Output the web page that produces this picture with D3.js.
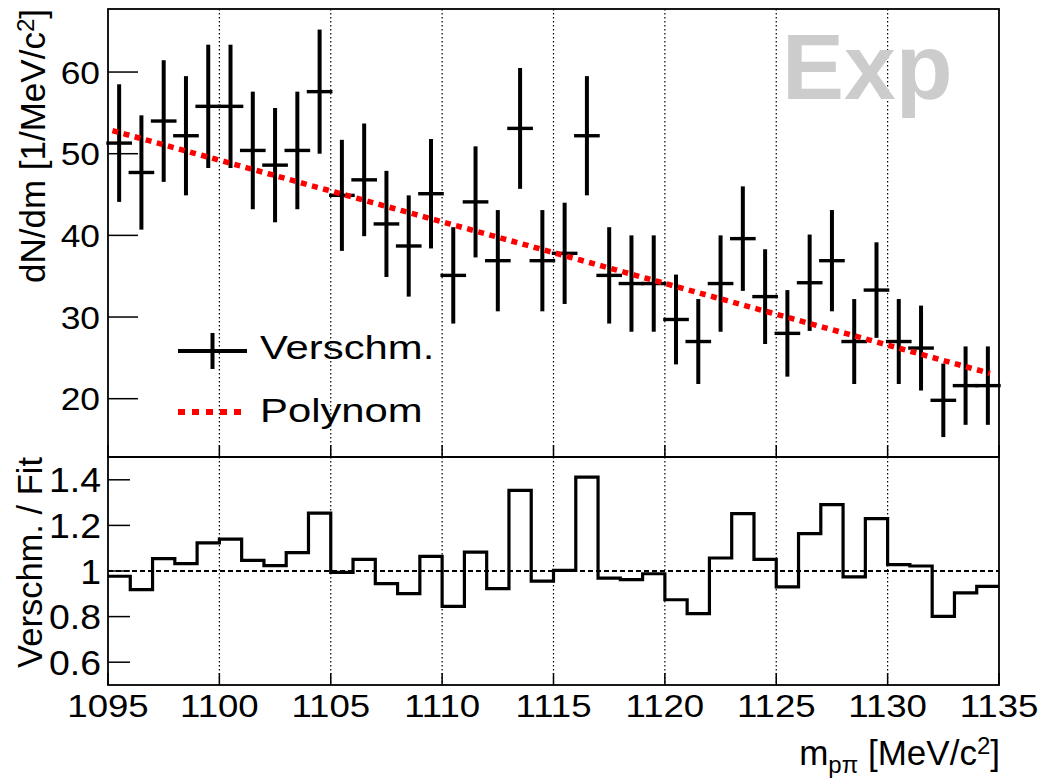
<!DOCTYPE html>
<html><head><meta charset="utf-8">
<script src="https://cdn.jsdelivr.net/npm/d3@7"></script>
<style>
html,body{margin:0;padding:0;background:#fff;}
svg{display:block;font-family:"Liberation Sans",Arial,Helvetica,sans-serif;}
</style></head>
<body>
<svg id="c" width="1045" height="783"></svg>
<script>
// ---- data ----
const binEdges = d3.range(1095, 1136, 1);           // 40 bins, 1 MeV wide
const counts = [51.3, 47.7, 54.0, 52.2, 55.8, 55.8, 50.4, 48.6, 50.4, 57.6,
                44.9, 46.8, 41.4, 38.7, 45.1, 35.1, 44.1, 36.9, 53.1, 36.9,
                37.8, 52.2, 35.1, 34.1, 34.1, 29.7, 27.0, 34.1, 39.6, 32.5,
                28.0, 34.2, 36.9, 27.0, 33.3, 27.0, 26.2, 19.8, 21.6, 21.6];
const errors = [7.2, 7.0, 7.45, 7.3, 7.55, 7.55, 7.2, 7.0, 7.2, 7.6,
                6.8, 6.9, 6.5, 6.2, 6.7, 5.9, 6.8, 6.2, 7.4, 6.2,
                6.2, 7.3, 5.9, 5.9, 5.9, 5.5, 5.2, 5.9, 6.4, 5.8,
                5.3, 5.9, 6.2, 5.2, 5.85, 5.2, 5.2, 4.5, 4.8, 4.8];
const ratio = [0.977, 0.918, 1.054, 1.032, 1.123, 1.140, 1.047, 1.024, 1.081, 1.254,
               0.994, 1.051, 0.945, 0.901, 1.064, 0.845, 1.083, 0.923, 1.354, 0.956,
               1.003, 1.412, 0.969, 0.962, 0.988, 0.874, 0.813, 1.057, 1.252, 1.051,
               0.930, 1.164, 1.291, 0.974, 1.230, 1.028, 1.022, 0.801, 0.904, 0.933];
const polyCoef = [52.98, -0.7546];   // p0 + p1*(m-1095)
const fitRange = [1095.2, 1134.6];
const xTicks = [1095, 1100, 1105, 1110, 1115, 1120, 1125, 1130, 1135];
const yTicksTop = [20, 30, 40, 50, 60];
const yTicksLow = [0.6, 0.8, 1, 1.2, 1.4];
const yTickLabelsLow = ["0.6", "0.8", "1", "1.2", "1.4"];
const legendLabels = ["Verschm.", "Polynom"];

// ---- layout ----
const L = 108, R = 999, T1 = 9, B1 = 457, T2 = 457, B2 = 685;
const svg = d3.select("#c");
const x = d3.scaleLinear().domain([1095, 1135]).range([L, R]);
const yTop = d3.scaleLinear().domain([12.86, 67.72]).range([B1, T1]);
const yLow = d3.scaleLinear().domain([0.5, 1.5]).range([B2, T2]);

function txt(g, px, py, s, size, sx, anchor, weight, fill) {
  return g.append("text")
    .attr("transform", `translate(${px},${py}) scale(${sx},1)`)
    .attr("font-size", size).attr("text-anchor", anchor || "start")
    .attr("font-weight", weight || "normal").attr("fill", fill || "#000")
    .text(s);
}

// grid (vertical dotted)
const gridX = xTicks.slice(1, -1);
[[T1, B1], [T2, B2]].forEach(([t, b]) => {
  svg.append("g").selectAll("line").data(gridX).join("line")
    .attr("x1", d => x(d)).attr("x2", d => x(d)).attr("y1", t).attr("y2", b)
    .attr("stroke", "#000").attr("stroke-width", 1.2).attr("stroke-dasharray", "1.5,2.5");
});

// Exp watermark
txt(svg, 782, 99, "Exp", 93, 1, "start", "bold", "#cccccc");

// ---- top panel: error bars ----
const bw = x(1096) - x(1095);
const gp = svg.append("g");
gp.selectAll("line.v").data(counts).join("line").attr("class", "v")
  .attr("x1", (d, i) => x(binEdges[i] + 0.5)).attr("x2", (d, i) => x(binEdges[i] + 0.5))
  .attr("y1", (d, i) => yTop(d + errors[i])).attr("y2", (d, i) => yTop(d - errors[i]))
  .attr("stroke", "#000").attr("stroke-width", 4);
gp.selectAll("line.h").data(counts).join("line").attr("class", "h")
  .attr("x1", (d, i) => x(binEdges[i])).attr("x2", (d, i) => x(binEdges[i + 1]))
  .attr("y1", d => yTop(d)).attr("y2", d => yTop(d))
  .attr("stroke", "#000").attr("stroke-width", 3.4).attr("stroke-linecap", "square");

// fit line
const fitPts = d3.range(fitRange[0], fitRange[1] + 0.001, 0.2).map(m => [m, polyCoef[0] + polyCoef[1] * (m - 1095)]);
svg.append("path").datum(fitPts)
  .attr("d", d3.line().x(d => x(d[0])).y(d => yTop(d[1])))
  .attr("fill", "none").attr("stroke", "#ff0000").attr("stroke-width", 5.5)
  .attr("stroke-dasharray", "6,5.5");

// ---- lower panel ----
svg.append("line").attr("x1", L).attr("x2", R).attr("y1", yLow(1)).attr("y2", yLow(1))
  .attr("stroke", "#000").attr("stroke-width", 2.2).attr("stroke-dasharray", "5,3");
const stepPts = [];
ratio.forEach((r, i) => { stepPts.push([binEdges[i], r]); stepPts.push([binEdges[i + 1], r]); });
svg.append("path").datum(stepPts)
  .attr("d", d3.line().x(d => x(d[0])).y(d => yLow(d[1])))
  .attr("fill", "none").attr("stroke", "#000").attr("stroke-width", 3.2)
  .attr("stroke-linejoin", "miter");

// ---- frames & ticks ----
[[T1, B1], [T2, B2]].forEach(([t, b]) => {
  svg.append("rect").attr("x", L).attr("y", t).attr("width", R - L).attr("height", b - t)
    .attr("fill", "none").attr("stroke", "#000").attr("stroke-width", 1.8);
});
// y ticks top
svg.append("g").selectAll("line").data(yTicksTop).join("line")
  .attr("x1", L).attr("x2", L + 30).attr("y1", d => yTop(d)).attr("y2", d => yTop(d))
  .attr("stroke", "#000").attr("stroke-width", 1.5);
yTicksTop.forEach(v => txt(svg, 100, yTop(v) + 11.5, String(v), 30.5, 1.16, "end"));
// y ticks low
svg.append("g").selectAll("line").data(yTicksLow).join("line")
  .attr("x1", L).attr("x2", L + 22).attr("y1", d => yLow(d)).attr("y2", d => yLow(d))
  .attr("stroke", "#000").attr("stroke-width", 1.5);
yTicksLow.forEach((v, i) => txt(svg, 101, yLow(v) + 12.5, yTickLabelsLow[i], 35, 1.07, "end"));
// x ticks
[B1, B2].forEach(b => {
  svg.append("g").selectAll("line").data(xTicks).join("line")
    .attr("x1", d => x(d)).attr("x2", d => x(d)).attr("y1", b).attr("y2", b - 12)
    .attr("stroke", "#000").attr("stroke-width", 1.5);
});
xTicks.forEach(v => txt(svg, x(v), 717, String(v), 30.5, 1.2, "middle"));

// ---- axis titles ----
const yt = svg.append("text").attr("transform", `translate(45,${T1}) rotate(-90)`)
  .attr("font-size", 35).attr("text-anchor", "end");
yt.append("tspan").text("dN/dm [1/MeV/c");
yt.append("tspan").attr("font-size", 24).attr("baseline-shift", "11").text("2");
yt.append("tspan").text("]");

svg.append("text").attr("transform", `translate(42,${T2}) rotate(-90)`)
  .attr("font-size", 34.5).attr("text-anchor", "end").text("Verschm. / Fit");

const xt = svg.append("text").attr("transform", "translate(1000,765)")
  .attr("font-size", 35).attr("text-anchor", "end");
xt.append("tspan").text("m");
xt.append("tspan").attr("font-size", 24).attr("baseline-shift", "-8").text("p\u03c0");
xt.append("tspan").text(" [MeV/c");
xt.append("tspan").attr("font-size", 24).attr("baseline-shift", "11").text("2");
xt.append("tspan").text("]");

// ---- legend ----
svg.append("line").attr("x1", 178).attr("x2", 247).attr("y1", 351).attr("y2", 351)
  .attr("stroke", "#000").attr("stroke-width", 4);
svg.append("line").attr("x1", 212.5).attr("x2", 212.5).attr("y1", 333).attr("y2", 369)
  .attr("stroke", "#000").attr("stroke-width", 4);
txt(svg, 260, 358.5, legendLabels[0], 34, 1.23, "start");
svg.append("line").attr("x1", 178).attr("x2", 247).attr("y1", 412).attr("y2", 412)
  .attr("stroke", "#ff0000").attr("stroke-width", 6).attr("stroke-dasharray", "7,7");
txt(svg, 260, 421.5, legendLabels[1], 34, 1.23, "start");
</script>
</body></html>
